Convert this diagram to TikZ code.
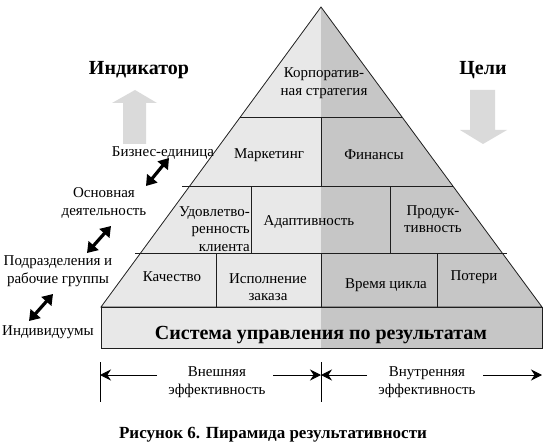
\documentclass[tikz,border=0pt]{standalone}
\usepackage{fontspec}
\setmainfont{Liberation Serif}
\usetikzlibrary{arrows.meta}
\definecolor{lightg}{RGB}{232,232,232}
\definecolor{darkg}{RGB}{198,198,198}
\definecolor{arrowg}{RGB}{218,218,218}
\definecolor{edge}{RGB}{30,30,30}
\begin{document}
\begin{tikzpicture}[x=1pt,y=-1pt,
  lbl/.style={font=\fontsize{15}{17.5}\selectfont, align=center, inner sep=0pt},
  boldlbl/.style={font=\fontsize{20}{22}\selectfont\bfseries, inner sep=0pt},
  edgeline/.style={draw=edge, line width=0.8pt},
  dbl/.style={line width=3.2pt, {Triangle[length=10pt,width=13pt]}-{Triangle[length=10pt,width=13pt]}},
  dim/.style={line width=1pt, -{Stealth[length=11pt,width=11pt]}},
  tick/.style={line width=0.9pt}]
\useasboundingbox (0,0) rectangle (555,444);
% pyramid fill
\begin{scope}
  \clip (321,7) -- (101,307) -- (542,307) -- cycle;
  \fill[lightg] (90,0) rectangle (321,310);
  \fill[darkg] (321,0) rectangle (560,310);
\end{scope}
\fill[lightg] (101,307) rectangle (321,348);
\fill[darkg] (321,307) rectangle (542,348);
% outlines
\draw[edgeline] (321,7) -- (101,307) -- (542,307) -- cycle;
\draw[edgeline] (101,307) rectangle (542,348);
\draw[edgeline] (240.3,117) -- (402,117);
\draw[edgeline] (182,186) -- (453,186);
\draw[edgeline] (135,253) -- (507,253);
\draw[edgeline] (321,117) -- (321,186);
\draw[edgeline] (251,186) -- (251,253);
\draw[edgeline] (390,186) -- (390,253);
\draw[edgeline] (216,253) -- (216,307);
\draw[edgeline] (321,253) -- (321,307);
\draw[edgeline] (437,253) -- (437,307);
% pyramid labels
\node[lbl] (corp) at (324,83) {Корпоратив-\\ная стратегия};
\node[lbl] (mark) at (269,155) {Маркетинг};
\node[lbl] (fin) at (374,155) {Финансы};
\node[lbl, align=right, anchor=east] (udov) at (250,229) {Удовлетво-\\ренность\\клиента};
\node[lbl] (adapt) at (309,222) {Адаптивность};
\node[lbl] (prod) at (433,219) {Продук-\\тивность};
\node[lbl] (kach) at (172,277) {Качество};
\node[lbl] (isp) at (268,287) {Исполнение\\заказа};
\node[lbl] (vrem) at (386,285) {Время цикла};
\node[lbl] (pot) at (474,277) {Потери};
\node[boldlbl] (sys) at (321,335) {Система управления по результатам};
% headings and big arrows
\node[boldlbl] (ind) at (139,70) {Индикатор};
\node[boldlbl] (celi) at (483,70) {Цели};
\fill[arrowg] (135,90) -- (157,103) -- (146,103) -- (146,144) -- (123,144) -- (123,103) -- (112,103) -- cycle;
\fill[arrowg] (483,144) -- (507,130) -- (495,130) -- (495,90) -- (470,90) -- (470,130) -- (460,130) -- cycle;
% left labels
\node[lbl] (biz) at (163,153) {Бизнес-единица};
\node[lbl] (osn) at (104,203) {Основная\\деятельность};
\node[lbl] (podr) at (58,271) {Подразделения и\\рабочие группы};
\node[lbl] (indiv) at (48,332) {Индивидуумы};
\coordinate (a1s) at (146,186); \coordinate (a1e) at (169,158);
\coordinate (a2s) at (87,253); \coordinate (a2e) at (111,226);
\coordinate (a3s) at (29,321); \coordinate (a3e) at (53,294);
\draw[dbl] (a1s) -- (a1e);
\draw[dbl] (a2s) -- (a2e);
\draw[dbl] (a3s) -- (a3e);
% dimension lines
\coordinate (t1a) at (100,362); \coordinate (t1b) at (100,402);
\coordinate (t2a) at (321,362); \coordinate (t2b) at (321,402);
\draw[tick] (t1a) -- (t1b);
\draw[tick] (t2a) -- (t2b);
\node[lbl] (vne) at (217,382) {Внешняя\\эффективность};
\node[lbl] (vnu) at (427,382) {Внутренняя\\эффективность};
\coordinate (d1) at (157,375); \coordinate (d1t) at (100,375);
\coordinate (d2) at (273,375); \coordinate (d2t) at (321,375);
\coordinate (d3) at (367,375);
\coordinate (d4) at (483,375); \coordinate (d4t) at (542,375);
\draw[dim] (d1) -- (d1t);
\draw[dim] (d2) -- (d2t);
\draw[dim] (d3) -- (d2t);
\draw[dim] (d4) -- (d4t);
% caption
\node[font=\fontsize{17}{20}\selectfont\bfseries, inner sep=0pt] (cap) at (273,435) {Рисунок 6. Пирамида результативности};
\end{tikzpicture}
\end{document}
